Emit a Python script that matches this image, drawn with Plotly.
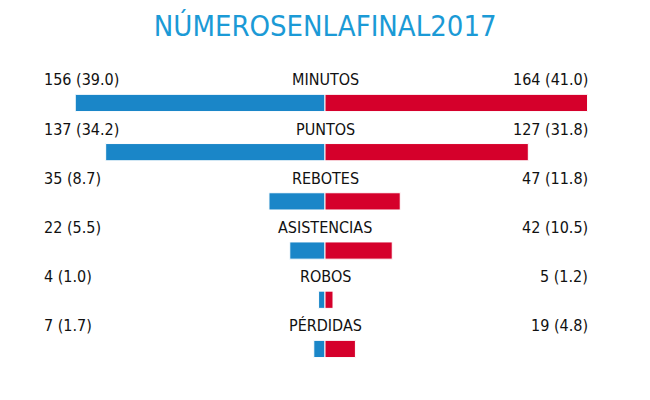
import plotly.graph_objects as go

categorias = ["MINUTOS", "PUNTOS", "REBOTES", "ASISTENCIAS", "ROBOS", "PÉRDIDAS"]
izquierda = [156, 137, 35, 22, 4, 7]
izquierda_media = ["39.0", "34.2", "8.7", "5.5", "1.0", "1.7"]
derecha = [164, 127, 47, 42, 5, 19]
derecha_media = ["41.0", "31.8", "11.8", "10.5", "1.2", "4.8"]

filas = list(range(len(categorias)))
fuente = "Liberation Sans Narrow, DejaVu Sans Condensed, Arial Narrow, sans-serif"

fig = go.Figure()
fig.add_trace(go.Bar(y=filas, x=[-v for v in izquierda], orientation="h", width=0.35,
                     marker=dict(color="#1a86c8", line=dict(color="white", width=1))))
fig.add_trace(go.Bar(y=filas, x=derecha, orientation="h", width=0.35,
                     marker=dict(color="#d5002b", line=dict(color="white", width=1))))

anots = []
for i, cat in enumerate(categorias):
    yl = i - 0.47
    anots.append(dict(x=0.488, xref="paper", y=yl, yref="y", text=cat, showarrow=False,
                      xanchor="center", font=dict(size=16, color="#111")))
    anots.append(dict(x=0.052, xref="paper", y=yl, yref="y",
                      text=f"{izquierda[i]} ({izquierda_media[i]})", showarrow=False,
                      xanchor="left", font=dict(size=16, color="#111")))
    anots.append(dict(x=0.895, xref="paper", y=yl, yref="y",
                      text=f"{derecha[i]} ({derecha_media[i]})", showarrow=False,
                      xanchor="right", font=dict(size=16, color="#111")))

fig.update_layout(
    width=650, height=400, barmode="relative", showlegend=False,
    margin=dict(l=0, r=0, t=0, b=0),
    paper_bgcolor="white", plot_bgcolor="white",
    font=dict(family=fuente),
    title=dict(text="NÚMEROSENLAFINAL2017", x=0.488, xanchor="center", y=0.955, yanchor="middle",
               font=dict(size=29, color="#1b9ad6", family=fuente)),
    xaxis=dict(range=[-198, 208], visible=False, fixedrange=True),
    yaxis=dict(range=[6.2, -1.93], visible=False, fixedrange=True),
    annotations=anots,
)

fig.write_html("out.html")
